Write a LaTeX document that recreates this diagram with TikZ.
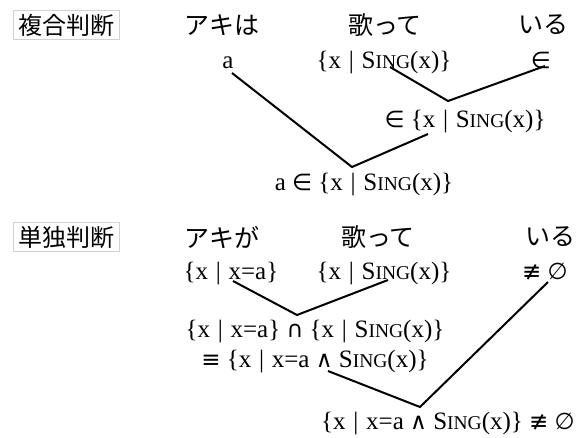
\documentclass[tikz,border=0pt]{standalone}
\usepackage{fontspec}
\setmainfont{Liberation Serif}
\newfontfamily\jpfont{Noto Sans CJK JP}
\newfontfamily\symfont{DejaVu Sans}
\usetikzlibrary{positioning}
\newcommand{\sing}{S{\fontsize{19.5}{20}\selectfont ING}}
\newcommand{\sym}[1]{{\symfont\fontsize{23}{24}\selectfont #1}}
\newcommand{\vbar}{\hspace{0.06em}|\hspace{0.06em}}

\begin{document}
\begin{tikzpicture}[x=1pt,y=-1pt,
    tag/.style={draw=black!18,line width=0.8pt,font=\jpfont\fontsize{24}{26}\selectfont,
      inner xsep=5pt,inner ysep=3pt},
    word/.style={font=\jpfont\fontsize{25}{27}\selectfont,inner sep=1pt},
    sem/.style={font=\fontsize{25}{27}\selectfont,inner sep=1pt,anchor=base},
    link/.style={line width=2pt,line join=miter}]
  \useasboundingbox (0,0) rectangle (580,437);

  % complex judgement
  \node[tag] (lab1) at (66,25) {複合判断};
  \node[word] (w1) at (222,25) {アキは};
  \node[word] (w2) at (385,25) {歌って};
  \node[word] (w3) at (543,25) {いる};
  \node[sem] (a1) at (228,68) {a};
  \node[sem] (s1) at (384,68) {\{x \vbar{} \sing(x)\}};
  \node[sem] (e1) at (541,68) {\sym{∈}};
  \node[sem] (m1) at (465,127) {\sym{∈} \{x \vbar{} \sing(x)\}};
  \node[sem] (r1) at (364,190) {a \sym{∈} \{x \vbar{} \sing(x)\}};
  \coordinate (v1) at (448,101);
  \coordinate (v2) at (352,167);
  \draw[link] ([xshift=4pt,yshift=-5pt]a1.base) -- (v2) -- ([xshift=-37pt,yshift=-7pt]m1.base);
  \draw[link] ([xshift=6pt,yshift=1pt]s1.base) -- (v1) -- ([xshift=4pt,yshift=2pt]e1.base);

  % simple judgement
  \node[tag] (lab2) at (66,237) {単独判断};
  \node[word] (w4) at (222,237) {アキが};
  \node[word] (w5) at (378,237) {歌って};
  \node[word] (w6) at (550,237) {いる};
  \node[sem] (b1) at (231,279) {\{x \vbar{} x=a\}};
  \node[sem] (b2) at (384,279) {\{x \vbar{} \sing(x)\}};
  \node[sem] (b3) at (545,279) {\sym{≢} \sym{∅}};
  \node[sem] (u1) at (315,337) {\{x \vbar{} x=a\} \sym{∩} \{x \vbar{} \sing(x)\}};
  \node[sem] (u2) at (315,367) {\sym{≡} \{x \vbar{} x=a \sym{∧} \sing(x)\}};
  \node[sem] (f1) at (448,429) {\{x \vbar{} x=a \sym{∧} \sing(x)\} \sym{≢} \sym{∅}};
  \coordinate (v3) at (297,315);
  \coordinate (v4) at (420,407);
  \draw[link] ([xshift=2pt,yshift=-2pt]b1.base) -- (v3) -- ([xshift=4pt,yshift=-1pt]b2.base);
  \draw[link] ([xshift=13pt,yshift=-4pt]u2.base) -- (v4) -- ([xshift=3pt,yshift=-3pt]b3.base);
\end{tikzpicture}
\end{document}
